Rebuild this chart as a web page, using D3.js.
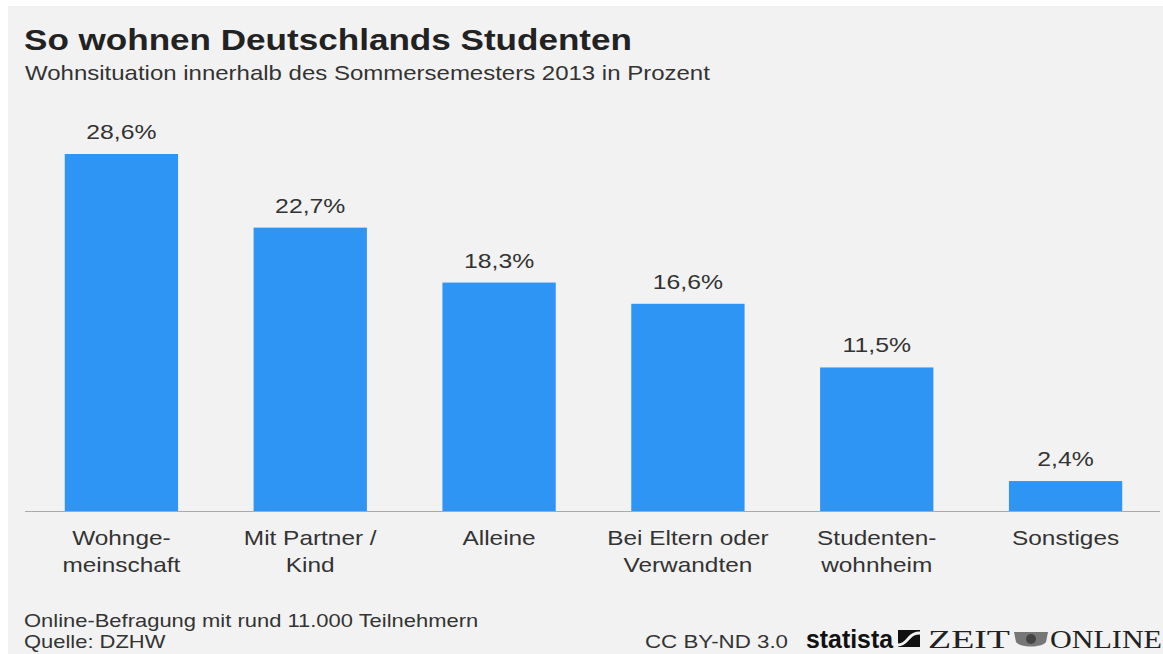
<!DOCTYPE html>
<meta charset="utf-8">
<style>
body { margin: 0; background: #fff; }
text { font-family: "Liberation Sans", Arial, sans-serif; fill: #333; }
.title { font-weight: bold; font-size: 29px; fill: #222; }
.sub { font-size: 20px; }
.val { font-size: 20px; text-anchor: middle; }
.cat { font-size: 20px; text-anchor: middle; }
.foot { font-size: 18px; }
</style>
<body>
<script src="https://d3js.org/d3.v7.min.js"></script>
<script>

// data
var categories = ["Wohnge-|meinschaft", "Mit Partner /|Kind", "Alleine", "Bei Eltern oder|Verwandten", "Studenten-|wohnheim", "Sonstiges"];
var values = [28.6, 22.7, 18.3, 16.6, 11.5, 2.4];
var valueLabels = ["28,6%", "22,7%", "18,3%", "16,6%", "11,5%", "2,4%"];

var W = 1163, H = 654;

// the original image is a little stretched sideways, so text gets widened too
function place(sel, px, py, sx) {
  return sel.attr("transform", "translate(" + px + "," + py + ") scale(" + sx + ",1)");
}

var svg = d3.select("body").append("svg")
    .attr("width", W)
    .attr("height", H);

// grey card
svg.append("rect")
    .attr("x", 8).attr("y", 6)
    .attr("width", W - 8).attr("height", H - 6)
    .attr("fill", "#f2f2f2");

place(svg.append("text").attr("class", "title"), 24, 50, 1.21)
    .text("So wohnen Deutschlands Studenten");
place(svg.append("text").attr("class", "sub"), 25, 80, 1.2)
    .text("Wohnsituation innerhalb des Sommersemesters 2013 in Prozent");

// scales
var x = d3.scaleBand()
    .domain(d3.range(categories.length))
    .range([27, 1160])
    .paddingInner(0.4)
    .paddingOuter(0.2);

var y = d3.scaleLinear()
    .domain([0, 28.6])
    .range([511, 154]);

// bars
svg.selectAll(".bar")
    .data(values)
  .enter().append("rect")
    .attr("class", "bar")
    .attr("x", function(d, i) { return x(i); })
    .attr("y", function(d) { return y(d); })
    .attr("width", x.bandwidth())
    .attr("height", function(d) { return y(0) - y(d); })
    .attr("fill", "#2f95f5");

// baseline
svg.append("line")
    .attr("x1", 25).attr("x2", 1160)
    .attr("y1", y(0) + 0.5).attr("y2", y(0) + 0.5)
    .attr("stroke", "#aaa")
    .attr("stroke-width", 1);

// value labels
svg.selectAll(".val")
    .data(values)
  .enter().append("text")
    .attr("class", "val")
    .attr("transform", function(d, i) {
      return "translate(" + (x(i) + x.bandwidth() / 2) + "," + (y(d) - 15) + ") scale(1.24,1)";
    })
    .text(function(d, i) { return valueLabels[i]; });

// category labels
var cats = svg.selectAll(".cat")
    .data(categories)
  .enter().append("text")
    .attr("class", "cat")
    .attr("transform", function(d, i) { return "translate(" + (x(i) + x.bandwidth() / 2) + ",545) scale(1.22,1)"; });
cats.selectAll("tspan")
    .data(function(d) { return d.split("|"); })
  .enter().append("tspan")
    .attr("x", 0)
    .attr("dy", function(d, i) { return i ? 27 : 0; })
    .text(function(d) { return d; });

// footer
place(svg.append("text").attr("class", "foot"), 24, 627, 1.22)
    .text("Online-Befragung mit rund 11.000 Teilnehmern");
place(svg.append("text").attr("class", "foot"), 24, 648, 1.22)
    .text("Quelle: DZHW");
svg.append("text").attr("class", "foot")
    .attr("x", 645).attr("y", 648)
    .attr("textLength", 143)
    .attr("lengthAdjust", "spacingAndGlyphs")
    .text("CC BY-ND 3.0");

svg.append("text")
    .attr("x", 806).attr("y", 648)
    .attr("textLength", 87)
    .attr("lengthAdjust", "spacingAndGlyphs")
    .style("font-family", "'Liberation Sans Narrow', 'Arial Narrow', sans-serif")
    .style("font-weight", "bold")
    .style("font-size", "26px")
    .style("fill", "#111")
    .text("statista");

// statista mark
var lg = svg.append("g").attr("transform", "translate(898,630)");
lg.append("rect").attr("width", 22).attr("height", 17).attr("fill", "#111");
lg.append("path")
    .attr("d", "M0,15 C6,15 8,11 11,8 C14,4 17,3 22,3")
    .attr("fill", "none").attr("stroke", "#f2f2f2").attr("stroke-width", 3);

svg.append("text")
    .attr("x", 928).attr("y", 648)
    .attr("textLength", 82)
    .attr("lengthAdjust", "spacingAndGlyphs")
    .style("font-family", "'Liberation Serif', 'Times New Roman', serif")
    .style("font-size", "25px")
    .style("fill", "#222")
    .text("ZEIT");
// emblem
var em = svg.append("g").attr("transform", "translate(1012,630)");
em.append("path")
    .attr("d", "M2,2 L36,2 L34,12 C30,18 8,18 4,12 Z")
    .attr("fill", "#777");
em.append("circle").attr("cx", 19).attr("cy", 9).attr("r", 5).attr("fill", "#444");
svg.append("text")
    .attr("x", 1050).attr("y", 648)
    .attr("textLength", 112)
    .attr("lengthAdjust", "spacingAndGlyphs")
    .style("font-family", "'Liberation Serif', 'Times New Roman', serif")
    .style("font-size", "25px")
    .style("fill", "#222")
    .text("ONLINE");

</script>
</body>
